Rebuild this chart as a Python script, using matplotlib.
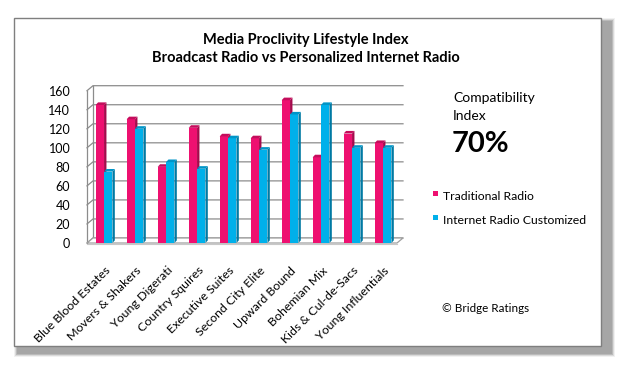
import matplotlib
matplotlib.use("Agg")
import matplotlib.pyplot as plt
from matplotlib.patches import Polygon, Rectangle
import numpy as np

categories = ["Blue Blood Estates", "Movers & Shakers", "Young Digerati", "Country Squires",
              "Executive Suites", "Second City Elite", "Upward Bound", "Bohemian Mix",
              "Kids & Cul-de-Sacs", "Young Influentials"]
traditional = [145, 130, 80, 121, 112, 110, 150, 90, 115, 105]
internet = [75, 120, 85, 78, 110, 98, 135, 145, 100, 100]
yticks = [0, 20, 40, 60, 80, 100, 120, 140, 160]
series_names = ["Traditional Radio", "Internet Radio Customized"]

FONT = ["Lato", "DejaVu Sans"]
plt.rcParams['font.family'] = FONT

W, H = 631, 367
fig = plt.figure(figsize=(W / 100, H / 100), dpi=100)

# background frame with shadow (figure pixel coords)
bg = fig.add_axes([0, 0, 1, 1])
bg.set_xlim(0, W)
bg.set_ylim(H, 0)
bg.axis("off")
for k, a in enumerate([0.15, 0.3, 0.6, 1.0]):
    e = 3 - k
    bg.add_patch(Rectangle((17 - e, 21 - e), 612 - 17 + 2 * e, 354 - 21 + 2 * e,
                           facecolor="#a6a6a6", edgecolor="none", alpha=a, zorder=0))
bg.add_patch(Rectangle((14, 18), 587, 328, facecolor="white", edgecolor="#7f7f7f",
                       linewidth=1.0, zorder=1))

# chart axes: front plane
x0, x1 = 87, 397
yb, yt = 243, 90.7
ax = fig.add_axes([x0 / W, 1 - yb / H, (x1 - x0) / W, (yb - yt) / H])
ax.set_zorder(2)
ax.patch.set_alpha(0)
xmin, xmax = -0.55, 9.45
ax.set_xlim(xmin, xmax)
ax.set_ylim(0, 160)
for s in ax.spines.values():
    s.set_visible(False)

ppx = (xmax - xmin) / (x1 - x0)      # data units per px (x)
ppy = 160 / (yb - yt)                # data units per px (y)
bdx, bdy = 6 * ppx, 5 * ppy          # back wall offset

grid_c = "#8c8c8c"
for v in yticks:
    ax.plot([xmin, xmin + bdx, xmax + bdx], [v, v + bdy, v + bdy], color=grid_c,
            lw=0.9, clip_on=False, zorder=1)
ax.plot([xmin, xmin], [0, 160], color=grid_c, lw=0.9, clip_on=False, zorder=1)
ax.plot([xmin + bdx, xmin + bdx], [bdy, 160 + bdy], color=grid_c, lw=0.9, clip_on=False, zorder=1)
# floor
ax.add_patch(Polygon([[xmin, 0], [xmax, 0], [xmax + bdx, bdy], [xmin + bdx, bdy]],
                     closed=True, facecolor="white", edgecolor="#a0a0a0", lw=0.9,
                     clip_on=False, zorder=1))
ax.plot([xmin, xmax], [-1.2, -1.2], color="#c8c8c8", lw=0.8, clip_on=False, zorder=1)

x = np.arange(len(categories))
w = 0.27
sdx, sdy = 2.4 * ppx, 2.6 * ppy

def bars3d(xl, vals, front, side, top, z):
    ax.bar(xl, vals, width=w, align="edge", color=front, edgecolor="none", zorder=z)
    for xi, v in zip(xl, vals):
        ax.add_patch(Polygon([[xi + w, 0], [xi + w + sdx, sdy], [xi + w + sdx, v + sdy], [xi + w, v]],
                             closed=True, facecolor=side, edgecolor="none", zorder=z, clip_on=False))
        ax.add_patch(Polygon([[xi, v], [xi + sdx, v + sdy], [xi + w + sdx, v + sdy], [xi + w, v]],
                             closed=True, facecolor=top, edgecolor="none", zorder=z, clip_on=False))

pink, cyan = "#ee1070", "#00b0ea"
bars3d(x - w, traditional, pink, "#a50a4c", "#c40d5c", 3)
bars3d(x, internet, cyan, "#0079a3", "#0095c8", 4)

ax.set_yticks(yticks)
ax.set_yticklabels([str(t) for t in yticks], fontsize=9, color="black")
ax.tick_params(axis="y", length=0, pad=12)
ax.set_xticks([])
for i, c in enumerate(categories):
    ax.text(i + 0.02, -23, c, rotation=45, rotation_mode="anchor", ha="right", va="top",
            fontsize=8.9, color="black")

# titles and annotations
fig.text(306 / W, 1 - 40 / H, "Media Proclivity Lifestyle Index", ha="center", va="center",
         fontsize=10.5, fontweight="bold")
fig.text(306 / W, 1 - 58 / H, "Broadcast Radio vs Personalized Internet Radio", ha="center",
         va="center", fontsize=10.5, fontweight="bold")
fig.text(453 / W, 1 - 98 / H, "Compatibility", ha="left", va="center", fontsize=10)
fig.text(453 / W, 1 - 116 / H, "Index", ha="left", va="center", fontsize=10)
fig.text(452 / W, 1 - 144 / H, "70%", ha="left", va="center", fontsize=21, fontweight="bold")

bg.add_patch(Rectangle((433, 191), 5, 5, facecolor=pink, edgecolor="none", zorder=3))
bg.add_patch(Rectangle((433, 215), 5, 5, facecolor=cyan, edgecolor="none", zorder=3))
bg.text(443, 196, series_names[0], ha="left", va="center", fontsize=8.8, zorder=3)
bg.text(443, 220, series_names[1], ha="left", va="center", fontsize=8.8, zorder=3)
bg.text(442, 309, "© Bridge Ratings", ha="left", va="center", fontsize=8.4, zorder=3)

fig.savefig("out.png", dpi=100)
